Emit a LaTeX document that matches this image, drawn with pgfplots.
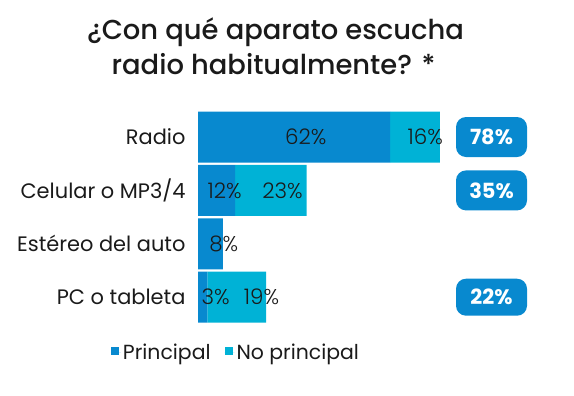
\documentclass[border=0pt]{standalone}
\usepackage{pgfplots}
\pgfplotsset{compat=1.18}
\usepackage{fontspec}
\setmainfont{Poppins}
\newfontfamily\titlefont{Poppins Medium}
\newfontfamily\lightfont{Poppins Light}
\definecolor{dblue}{RGB}{8,137,207}
\definecolor{lblue}{RGB}{0,178,214}
\definecolor{txt}{RGB}{26,26,26}
\begin{document}
\begin{tikzpicture}
\path[use as bounding box] (0,0) rectangle (574bp,-396bp);
\node[anchor=base, font=\titlefont\fontsize{27.5}{30}\selectfont, text=txt, inner sep=0] at (275.5bp,-39bp) {¿Con qué aparato escucha};
\node[anchor=base, font=\titlefont\fontsize{27.5}{30}\selectfont, text=txt, inner sep=0] at (273.5bp,-74bp) {radio habitualmente? *};
\begin{axis}[
  at={(198bp,-323.9bp)}, anchor=south west,
  scale only axis, width=310bp, height=213.6bp,
  xmin=0, xmax=100, ymin=-0.5, ymax=3.5,
  xbar stacked, bar width=51bp,
  axis line style={draw=none},
  xtick=\empty, ytick={0,1,2,3},
  yticklabels={PC o tableta, Estéreo del auto, Celular o MP3/4, Radio},
  major tick length=0pt,
  yticklabel style={font=\fontsize{21}{24}\selectfont, text=txt, xshift=-9bp},
  clip=false,
  legend columns=2,
  legend style={at={(0.1226,-0.1316)}, anchor=center, draw=none, fill=none,
    font=\fontsize{20.5}{23}\selectfont, text=txt,
    /tikz/every even column/.append style={column sep=12bp}},
  legend cell align=left,
]
\addplot[fill=dblue, draw=none,
  legend image code/.code={\fill[dblue] (0bp,-3bp) rectangle (8bp,5bp); \path (0bp,0bp) -- (10bp,0bp);}]
  coordinates {(3,0) (8,1) (12,2) (62,3)};
\addlegendentry{Principal}
\addplot[fill=lblue, draw=none,
  legend image code/.code={\fill[lblue] (0bp,-3bp) rectangle (8bp,5bp); \path (0bp,0bp) -- (10bp,0bp);}]
  coordinates {(19,0) (0,1) (23,2) (16,3)};
\addlegendentry{No principal}
\node[fill=dblue, rounded corners=10bp, minimum width=71bp, minimum height=40bp, inner sep=0, text=white, font=\bfseries\fontsize{21}{24}\selectfont] at (axis cs:94.68,3) {78\%};
\node[fill=dblue, rounded corners=10bp, minimum width=71bp, minimum height=40bp, inner sep=0, text=white, font=\bfseries\fontsize{21}{24}\selectfont] at (axis cs:94.68,2) {35\%};
\node[fill=dblue, rounded corners=10bp, minimum width=71bp, minimum height=37bp, inner sep=0, text=white, font=\bfseries\fontsize{21}{24}\selectfont] at (axis cs:94.68,0) {22\%};
\end{axis}
\begin{axis}[
  at={(198bp,-323.9bp)}, anchor=south west,
  scale only axis, width=310bp, height=213.6bp,
  xmin=0, xmax=100, ymin=-0.5, ymax=3.5,
  hide axis, clip=false,
]
\addplot[only marks, mark=none, point meta=explicit symbolic,
  nodes near coords={\pgfplotspointmeta\%},
  nodes near coords align=center,
  every node near coord/.append style={font=\lightfont\fontsize{21.5}{24}\selectfont, text=txt, anchor=center}]
  table[meta=l] {
x y l
34.8 3 62
73.3 3 16
8.6 2 12
27.3 2 23
8.3 1 8
5.7 0 3
20.5 0 19
};
\end{axis}
\end{tikzpicture}
\end{document}
